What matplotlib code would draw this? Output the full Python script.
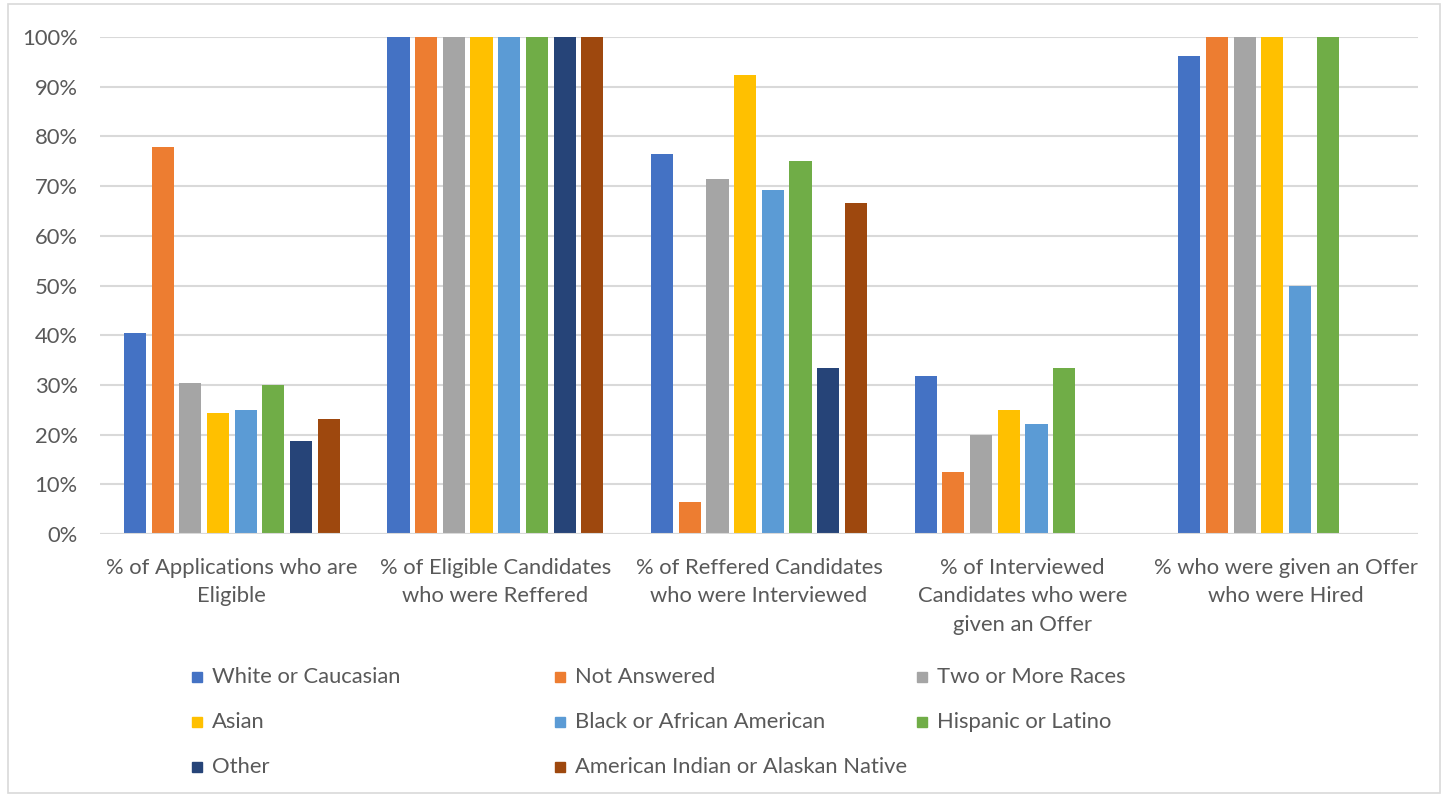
import matplotlib
matplotlib.use("Agg")
import matplotlib.pyplot as plt
import numpy as np
from matplotlib.patches import Rectangle

plt.rcParams['font.family'] = ['Lato', 'DejaVu Sans']

categories = [
    "% of Applications who are\nEligible",
    "% of Eligible Candidates\nwho were Reffered",
    "% of Reffered Candidates\nwho were Interviewed",
    "% of Interviewed\nCandidates who were\ngiven an Offer",
    "% who were given an Offer\nwho were Hired",
]
series_names = [
    "White or Caucasian", "Not Answered", "Two or More Races",
    "Asian", "Black or African American", "Hispanic or Latino",
    "Other", "American Indian or Alaskan Native",
]
colors = ["#4472C4", "#ED7D31", "#A5A5A5", "#FFC000", "#5B9BD5", "#70AD47", "#264478", "#9E480E"]

white_caucasian = [40.4, 100, 76.5, 31.8, 96.2]
not_answered    = [77.8, 100, 6.45, 12.5, 100]
two_or_more     = [30.4, 100, 71.4, 20.0, 100]
asian           = [24.4, 100, 92.3, 25.0, 100]
black_african   = [25.0, 100, 69.2, 22.2, 50.0]
hispanic_latino = [30.0, 100, 75.0, 33.3, 100]
other           = [18.75, 100, 33.3, np.nan, np.nan]
american_indian = [23.1, 100, 66.7, np.nan, np.nan]

series = [white_caucasian, not_answered, two_or_more, asian,
          black_african, hispanic_latino, other, american_indian]

W, H = 1452, 795
FS = 15.8
fig = plt.figure(figsize=(W / 100, H / 100), dpi=100)
ax = fig.add_axes([100 / W, 1 - 534 / H, 1318 / W, 497 / H])

x = np.arange(len(categories))
step = 0.105
bw = 0.084
for j, (vals, c) in enumerate(zip(series, colors)):
    ax.bar(x + (j - 3.5) * step, np.array(vals, dtype=float) / 100, width=bw,
           color=c, zorder=3, linewidth=0)

ax.set_xlim(-0.5, len(categories) - 0.5)
ax.set_ylim(0, 1.0)
ax.set_yticks(np.arange(0, 1.01, 0.1))
ax.set_yticklabels([f"{int(round(v * 100))}%" for v in np.arange(0, 1.01, 0.1)])
ax.yaxis.grid(True, color="#D9D9D9", linewidth=1.5, zorder=0)
ax.set_axisbelow(True)
for s in ax.spines.values():
    s.set_visible(False)
ax.tick_params(axis='y', length=0, pad=16, labelsize=FS, labelcolor="#595959")
ax.set_xticks(x)
ax.set_xticklabels(categories, fontsize=FS, color="#595959", linespacing=1.55, va='top')
ax.tick_params(axis='x', length=0, pad=17)
ax.axhline(0, color="#D9D9D9", linewidth=1.5, zorder=4)

# manual legend laid out in rows of three
col_x = [192, 555, 917]
row_y = [677, 722, 767]
for k, (name, c) in enumerate(zip(series_names, colors)):
    r, cc = divmod(k, 3)
    lx, ly = col_x[cc], row_y[r]
    fig.patches.append(Rectangle((lx / W, 1 - (ly + 5) / H), 10 / W, 10 / H,
                                 transform=fig.transFigure, color=c, figure=fig))
    fig.text((lx + 20) / W, 1 - ly / H, name, fontsize=FS, color="#595959",
             va='center', ha='left')

# chart border
fig.patches.append(Rectangle((8 / W, 2 / H), (1440 - 8) / W, (H - 6) / H,
                             transform=fig.transFigure, fill=False,
                             edgecolor="#D9D9D9", linewidth=1.2, figure=fig))

fig.savefig("out.png", dpi=100)
